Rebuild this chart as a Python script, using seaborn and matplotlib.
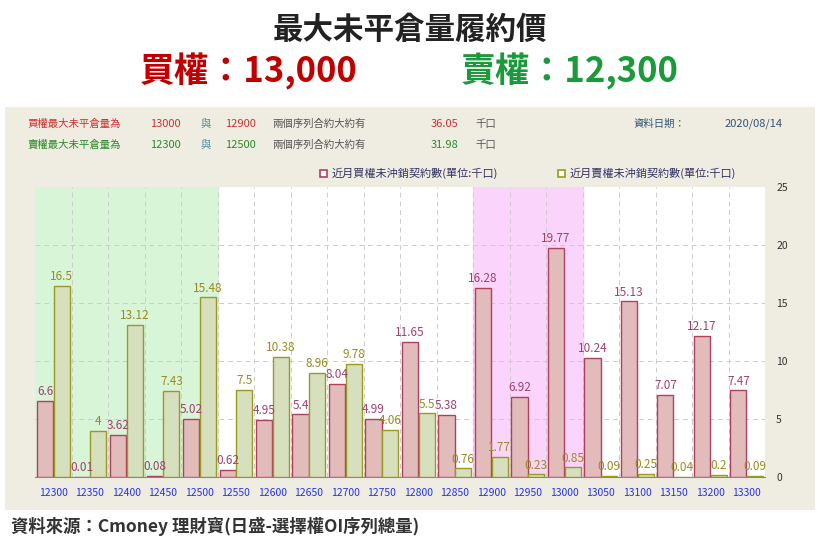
# 最大未平倉量履約價 圖表重建
import matplotlib
matplotlib.use("Agg")
import matplotlib.pyplot as plt
from matplotlib import font_manager
import seaborn as sns
import pandas as pd
import numpy as np

# 找出可用的中文字型
cjk = [f.name for f in font_manager.fontManager.ttflist if "CJK" in f.name]
plt.rcParams["font.family"] = sorted(set(cjk)) + ["DejaVu Sans"]

# -----------------------------------------
# 資料
# -----------------------------------------
履約價 = ["12300", "12350", "12400", "12450", "12500", "12550", "12600", "12650", "12700", "12750",
         "12800", "12850", "12900", "12950", "13000", "13050", "13100", "13150", "13200", "13300"]
買權 = [6.6, 0.01, 3.62, 0.08, 5.02, 0.62, 4.95, 5.4, 8.04, 4.99,
       11.65, 5.38, 16.28, 6.92, 19.77, 10.24, 15.13, 7.07, 12.17, 7.47]
賣權 = [16.5, 4, 13.12, 7.43, 15.48, 7.5, 10.38, 8.96, 9.78, 4.06,
       5.5, 0.76, 1.77, 0.23, 0.85, 0.09, 0.25, 0.04, 0.2, 0.09]
y_ticks = [0, 5, 10, 15, 20, 25]

名稱_買 = "近月買權未沖銷契約數(單位:千口)"
名稱_賣 = "近月賣權未沖銷契約數(單位:千口)"

df = pd.DataFrame({"履約價": 履約價 * 2,
                   "值": 買權 + 賣權,
                   "類別": [名稱_買] * len(履約價) + [名稱_賣] * len(履約價)})

fig = plt.figure(figsize=(8.2, 5.51), dpi=100)
fig.patch.set_facecolor("white")

# 背景面板
panel = fig.add_axes([0.006, 0.075, 0.988, 0.73])
panel.set_facecolor("#efece2")
panel.set_xticks([]); panel.set_yticks([])
for s in panel.spines.values():
    s.set_visible(False)

# 標題
fig.text(0.5, 0.945, "最大未平倉量履約價", ha="center", va="center", fontsize=22, fontweight="bold", color="#222222")
fig.text(0.303, 0.87, "買權：13,000", ha="center", va="center", fontsize=25, fontweight="bold", color="#c00000")
fig.text(0.695, 0.87, "賣權：12,300", ha="center", va="center", fontsize=25, fontweight="bold", color="#1a9a3a")

# 說明文字
rows = [(0.775, "#d03030", "買權最大未平倉量為", "13000", "12900", "36.05"),
        (0.737, "#2a8a2a", "賣權最大未平倉量為", "12300", "12500", "31.98")]
for y, c, t, a, b, v in rows:
    fig.text(0.033, y, t, fontsize=7.5, color=c, va="center")
    fig.text(0.183, y, a, fontsize=8, color=c, va="center")
    fig.text(0.245, y, "與", fontsize=7.5, color="#4a90a0", va="center")
    fig.text(0.275, y, b, fontsize=8, color=c, va="center")
    fig.text(0.332, y, "兩個序列合約大約有", fontsize=7.5, color="#555555", va="center")
    fig.text(0.525, y, v, fontsize=8, color=c, va="center")
    fig.text(0.58, y, "千口", fontsize=7.5, color="#555555", va="center")
fig.text(0.772, 0.775, "資料日期：", fontsize=7.5, color="#335577", va="center")
fig.text(0.883, 0.775, "2020/08/14", fontsize=8, color="#335577", va="center")

# -----------------------------------------
# 長條圖
# -----------------------------------------
ax = fig.add_axes([0.043, 0.134, 0.890, 0.527])
ax.set_facecolor("white")
ax.axvspan(-0.5, 4.5, color="#d8f5d8", zorder=0)
ax.axvspan(11.5, 14.5, color="#fbd4fb", zorder=0)

sns.barplot(data=df, x="履約價", y="值", hue="類別",
            palette=["#e8b4b4", "#d8e4b8"], width=0.92, gap=0.04,
            edgecolor=None, linewidth=1.0, ax=ax, legend=False, zorder=3)

edge = ["#b04060", "#9a9a20"]
text_c = ["#a04070", "#9a8a20"]
for i, cont in enumerate(ax.containers):
    for bar in cont:
        bar.set_edgecolor(edge[i])
    ax.bar_label(cont, labels=[f"{v:g}" for v in (買權 if i == 0 else 賣權)],
                 fontsize=8.5, color=text_c[i], padding=2)

ax.set_xlim(-0.5, len(履約價) - 0.5)
ax.set_ylim(0, 25)
ax.set_yticks(y_ticks)
ax.yaxis.tick_right()
ax.tick_params(axis="y", length=0, labelsize=7.5, colors="#333333", pad=8)
ax.tick_params(axis="x", length=0, labelsize=7.5, colors="#2233ee", pad=8)
ax.set_xlabel(""); ax.set_ylabel("")
for x in np.arange(0.5, len(履約價) - 0.5, 1):
    ax.axvline(x, color="#cccccc", linestyle=(0, (5, 4)), linewidth=0.7, zorder=1)
for y in y_ticks[1:-1]:
    ax.axhline(y, color="#cccccc", linestyle=(0, (5, 4)), linewidth=0.7, zorder=1)
for s in ["top", "right", "left"]:
    ax.spines[s].set_visible(False)
ax.spines["bottom"].set_color("#888888")

# 圖例（小方框）
for lx, c, name in [(0.39, "#b04060", 名稱_買), (0.68, "#9a9a20", 名稱_賣)]:
    fig.patches.append(plt.Rectangle((lx, 0.678), 0.009, 0.014, transform=fig.transFigure,
                                     facecolor="white", edgecolor=c, linewidth=1.2))
    fig.text(lx + 0.014, 0.685, name, fontsize=8, color="#333366", va="center")

fig.text(0.013, 0.045, "資料來源：Cmoney 理財寶(日盛-選擇權OI序列總量)", fontsize=12.5, fontweight="bold", color="#333333", va="center")

fig.savefig("out.png", dpi=100)
